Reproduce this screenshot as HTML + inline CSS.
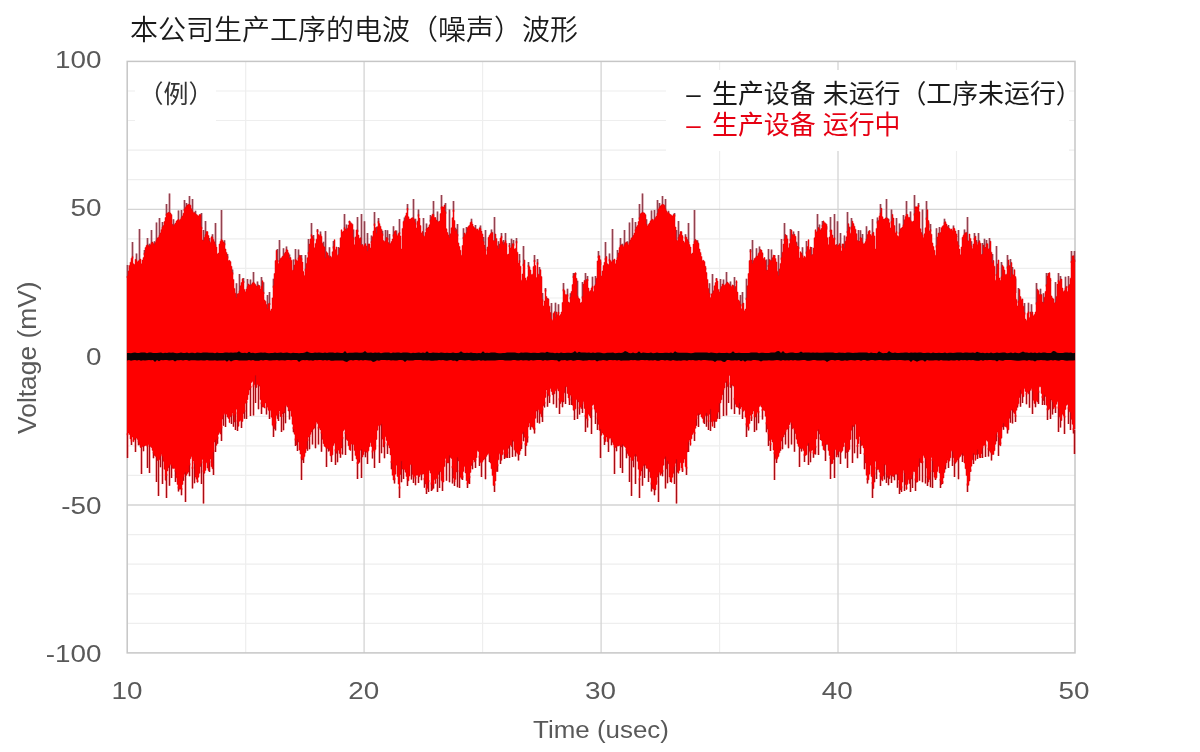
<!DOCTYPE html>
<html lang="zh-CN">
<head>
<meta charset="utf-8">
<title>本公司生产工序的电波（噪声）波形</title>
<style>
html,body{margin:0;padding:0;background:#fff;}
body{width:1200px;height:752px;overflow:hidden;}
svg{display:block;}
.ax text{font-family:"Liberation Sans",sans-serif;font-size:24px;fill:#595959;}
.cjk{font-family:"Liberation Sans","Noto Sans CJK SC",sans-serif;}
</style>
</head>
<body>
<svg width="1200" height="752" viewBox="0 0 1200 752">
<rect width="1200" height="752" fill="#fff"/>
<g fill="none">
<path d="M127.2,91H1075M127.2,120.5H1075M127.2,150.1H1075M127.2,179.7H1075M127.2,238.8H1075M127.2,268.4H1075M127.2,298H1075M127.2,327.6H1075M127.2,386.7H1075M127.2,416.3H1075M127.2,445.9H1075M127.2,475.4H1075M127.2,534.6H1075M127.2,564.2H1075M127.2,593.8H1075M127.2,623.3H1075M245.7,61.4V652.9M482.6,61.4V652.9M719.6,61.4V652.9M956.5,61.4V652.9" stroke="#eeeeee" stroke-width="1.2"/>
<path d="M127.2,209.3H1075M127.2,357.1H1075M127.2,505H1075M364.1,61.4V652.9M601.1,61.4V652.9M838,61.4V652.9" stroke="#d4d4d4" stroke-width="1.3"/>
</g>
<rect x="135" y="66" width="81" height="70" fill="#fff"/>
<rect x="666" y="70" width="403" height="81" fill="#fff"/>
<rect x="127.2" y="61.4" width="947.8" height="591.5" fill="none" stroke="#c6c6c6" stroke-width="1.5"/>
<path d="M127.5,265V278M132.5,242V258.5M136.5,253.5V262.6M139.5,229V261.9M144.5,249.9V254.9M147.5,238V246.7M149.5,243.8V248.8M151.5,230V244.8M154.5,241.2V246.8M156.5,222.4V241.9M159.5,218V237.3M162.5,222V228.9M166.5,204V215.8M169.5,193.6V214.7M173.5,219.3V228M178.5,210.6V221.2M181.5,210V219.4M184.5,200V211.1M186.5,202.9V207.9M189.5,196V206.5M192.5,199V212.8M195.5,210.8V215.8M201.5,213V229M203.5,230V242.7M205.5,221V236.6M209.5,238.1V243.1M212.5,234.3V239.3M215.5,223V246.5M221.5,210V241.4M224.5,240.3V245.3M227.5,254V258.4M232.5,269.5V274.5M236.5,283.3V299.4M239.5,274V292.8M243.5,278V283M247.5,279.1V288.6M250.5,279.4V287.3M253.5,272V284.1M257.5,281.6V288.4M261.5,277V288.5M263.5,282.2V294.1M267.5,295V310.7M269.5,292V305.1M273.5,278.7V287.8M277.5,249V262M279.5,240V262.5M283.5,248.2V257.9M286.5,246.5V251.5M289.5,254.6V260.6M293.5,259.5V272.1M295.5,249V261.4M298.5,249.4V259.7M301.5,255V260.4M305.5,255V270.9M308.5,239V254.2M311.5,223V236.6M313.5,235V240.8M317.5,229V232.1M320.5,231.6V236.3M323.5,241.7V248.1M325.5,231V259.9M329.5,247.2V259.7M333.5,240.9V248.5M338.5,246.9V256.6M344.5,214V229.6M346.5,224.6V232.1M349.5,221V222.9M353.5,229.6V239.7M357.5,217V231.9M361.5,214V247M364.5,221.3V247.1M367.5,233V253M371.5,235.4V243.3M374.5,212V225.7M376.5,226.8V235.2M378.5,218V223.2M382.5,230.7V235.7M385.5,230V243.1M387.5,230.3V240.1M389.5,234V246.1M393.5,226.2V236.6M396.5,230.4V236.5M399.5,219V234.3M404.5,217.4V222.4M407.5,204V210.3M413.5,199V220.2M415.5,218.7V224.7M418.5,209.6V216.4M423.5,218V237.7M426.5,223.4V230.8M430.5,215.1V221.8M433.5,201V216.4M437.5,211.5V223.5M441.5,195V208.8M445.5,203V213.8M449.5,209.6V239.5M453.5,201V211.7M455.5,227.8V233.1M457.5,224V236.2M463.5,228.3V239M466.5,226.9V234.6M471.5,218.8V223.8M475.5,225.1V230.5M480.5,225.6V230.6M483.5,237V243.4M485.5,230V251.1M491.5,229.5V234.7M494.5,217V242.9M498.5,241.2V250.5M501.5,233V238.2M503.5,240.1V246.5M505.5,233V242.7M509.5,243V247.1M511.5,238.7V249.1M513.5,240V245.7M516.5,238V243.2M519.5,254V262.5M523.5,246V265.9M528.5,262V267.2M534.5,255V262.1M537.5,259V264.6M539.5,267V276.9M542.5,293V301.4M545.5,288V291.5M547.5,298V301.4M551.5,303V321.1M555.5,302.7V319.4M558.5,304.2V314M563.5,283V291.2M567.5,288.7V296.6M570.5,293.2V299.2M573.5,272.9V277.9M575.5,273V274.7M577.5,280.8V297.9M582.5,282V298.4M585.5,273.1V283.6M587.5,276V281.1M592.5,276.7V288.4M595.5,276V286.6M598.5,251V257.9M600.5,265V261.7M605.5,242V260.2M609.5,253.5V261.3M612.5,229V262.9M617.5,249.9V259.6M620.5,238V247.5M622.5,243.8V247.4M624.5,230V246.8M627.5,241.2V245.4M629.5,222.4V244.2M632.5,218V239.3M635.5,222V231.6M639.5,204V219.5M642.5,193.6V214.3M646.5,219.3V226.3M651.5,210.6V222.1M654.5,210V221.3M657.5,200V215.3M659.5,202.9V209.4M662.5,196V206.3M665.5,199V210.8M668.5,210.8V214.5M674.5,213V216.5M676.5,230V242M678.5,221V239.2M682.5,238.1V237.5M685.5,234.3V238.8M688.5,223V243.8M694.5,210V243.3M697.5,240.3V243.9M700.5,254V254.4M705.5,269.5V268.3M709.5,283.3V295.2M712.5,274V295.3M716.5,278V280.8M720.5,279.1V290.9M723.5,279.4V287M726.5,272V285M730.5,281.6V288M734.5,277V291M736.5,282.2V282.8M740.5,295V306.6M742.5,292V305.7M746.5,278.7V299.9M750.5,249V252.3M752.5,240V265.5M756.5,248.2V258.3M759.5,246.5V254M762.5,254.6V254.8M766.5,259.5V272.2M768.5,249V267M771.5,249.4V262.8M774.5,255V257.5M778.5,255V277.4M781.5,239V259.7M784.5,223V240.9M786.5,235V238.3M790.5,229V241.2M793.5,231.6V237.4M796.5,241.7V245.3M798.5,231V249.1M802.5,247.2V257.4M806.5,240.9V253.7M811.5,246.9V257.2M817.5,214V233M819.5,224.6V231.1M822.5,221V227M826.5,229.6V226.2M830.5,217V231.9M834.5,214V239.8M837.5,221.3V248.4M840.5,233V248M844.5,235.4V250M847.5,212V233M849.5,226.8V229.7M851.5,218V228.7M855.5,230.7V231.2M858.5,230V243.6M860.5,230.3V239.6M862.5,234V244.6M866.5,226.2V241.1M869.5,230.4V232.7M872.5,219V235.5M877.5,217.4V223.4M880.5,204V214.9M886.5,199V219.7M888.5,218.7V221.4M891.5,209.6V223.2M896.5,218V233.6M899.5,223.4V234.3M903.5,215.1V226.8M906.5,201V216.2M910.5,211.5V222M914.5,195V215.6M918.5,203V207M922.5,209.6V237M926.5,201V219.7M928.5,227.8V222.5M930.5,224V231.6M936.5,228.3V247.5M939.5,226.9V236.3M944.5,218.8V224.4M948.5,225.1V229.7M953.5,225.6V229.8M956.5,237V235.9M958.5,230V247.1M964.5,229.5V235.7M967.5,217V242.6M971.5,241.2V247.8M974.5,233V240M976.5,240.1V243.7M978.5,233V244.5M982.5,243V256.1M984.5,238.7V250.1M986.5,240V245.7M989.5,238V250.4M992.5,254V265M996.5,246V276M1001.5,262V278.8M1007.5,255V268.6M1010.5,259V279.6M1012.5,267V276.2M1015.5,293V278.6M1018.5,288V303.1M1020.5,298V298.6M1024.5,303V314.5M1028.5,302.7V313.7M1031.5,304.2V316.2M1036.5,283V304.5M1040.5,288.7V296.7M1043.5,293.2V304.8M1046.5,272.9V286.6M1048.5,273V275.4M1050.5,280.8V280.3M1055.5,282V304.3M1058.5,273.1V282.4M1060.5,276V281.6M1065.5,276.7V289.9M1068.5,276V287.9M1071.5,251V262.9M1074.5,251V262" fill="none" stroke="#e08088" stroke-width="2.2" opacity="0.55"/>
<path d="M127.5,458V433.2M131.5,445V439.6M135.5,452V436.2M138.5,445.3V440.3M141.5,474V445.4M143.5,451.3V444M147.5,468V444.9M149.5,473V443.5M153.5,458.3V451.4M156.5,482V455.2M158.5,496V458.4M160.5,467.3V454.2M162.5,484V454.2M166.5,498V473.8M169.5,485.8V463.8M171.5,478V463.3M175.5,482V469.8M178.5,491.4V486.4M181.5,495.3V487.9M183.5,480.8V475M185.5,502V470.3M189.5,476.2V463.3M192.5,488.5V466.8M194.5,483.2V461.7M197.5,482V480.3M201.5,484V461.3M203.5,503.6V470.2M209.5,472V460.7M213.5,475V449.9M215.5,452.1V437.9M217.5,443.7V436.8M221.5,441V426.3M223.5,425.7V413.3M225.5,427V412.7M231.5,424V413.6M233.5,426.8V413.6M235.5,430V412.2M237.5,431V419.7M241.5,428V419.4M244.5,418.7V409.9M246.5,419V400.9M250.5,416V385.9M253.5,415.6V384.6M255.5,403V373.4M258.5,409.2V383.3M261.5,414V402.2M266.5,414.6V406.5M269.5,419V409.2M273.5,437V424.7M275.5,430.4V421.6M278.5,421V412M281.5,432V415M283.5,430.3V410.1M285.5,423.2V404.6M289.5,419.5V407.9M293.5,432.3V427.1M295.5,446V438.5M297.5,451V437.5M301.5,480V456.6M303.5,463V456.4M307.5,450.8V439M309.5,449.2V435M312.5,444.5V427.8M315.5,448.3V422.8M318.5,444.6V426.7M321.5,451.8V431.5M326.5,467V446.4M328.5,451.5V446.5M331.5,462V453.4M335.5,465V449.3M337.5,462.2V448.7M340.5,457.7V451.9M342.5,454.4V436.9M345.5,455.1V432M347.5,440V438.5M352.5,461V442.4M357.5,479V461.9M359.5,462.5V457.5M361.5,478V447.4M365.5,457.3V449.3M367.5,464V450.2M372.5,458.6V450.4M374.5,468V449.5M379.5,463V424.6M381.5,453.3V421.9M384.5,458.2V441.7M387.5,454V443.5M391.5,469.2V460.9M394.5,483.6V477.8M399.5,498V486.5M401.5,482.3V459.2M403.5,479V467.6M407.5,486V477.6M411.5,479.5V462.8M413.5,483V475.3M415.5,485.3V476.7M418.5,483.1V474.1M421.5,480.2V472.2M424.5,487.7V477.9M426.5,494V488M428.5,492.1V480.1M431.5,491V482.6M433.5,488.5V482.3M437.5,492V476.9M439.5,488.1V469.8M442.5,491V480.3M446.5,480.7V460.4M449.5,482.3V453.4M452.5,483.6V466.1M454.5,486V480M457.5,487.2V455.6M459.5,488.1V469.9M462.5,480V475.8M467.5,488V482.4M469.5,484V476M472.5,469.2V461M475.5,468V458.8M479.5,466V455.7M481.5,477V461.2M485.5,479.3V455.3M489.5,462.1V453.6M494.5,492V483.3M497.5,471.7V464.2M500.5,464V452.6M504.5,459.1V452.1M507.5,458.1V451.7M509.5,458.1V443.7M512.5,456.9V438.2M515.5,456.4V448.8M518.5,460.4V452.6M521.5,449V442.3M523.5,441.2V429.9M525.5,456V442.9M527.5,442.4V436.2M530.5,429.8V424.2M534.5,433.6V427.8M537.5,422.7V408M539.5,423.4V410.3M542.5,422V408.3M544.5,407.6V401.7M547.5,406.7V391.5M549.5,403V394.7M553.5,404.3V390.5M556.5,407.8V388.2M559.5,414V398.3M562.5,407.3V398.8M565.5,403.9V384.8M569.5,405V398.5M571.5,405.1V394.4M574.5,420V407.8M577.5,419V397.9M579.5,414.5V406.8M582.5,412.9V402.3M585.5,432V414.7M587.5,427.4V418.5M591.5,434V407.5M595.5,423.9V409.5M597.5,430V417.3M600.5,433.4V427.1M600.5,458V427.1M604.5,445V437.1M608.5,452V437.7M611.5,445.3V437.6M614.5,474V445.4M616.5,451.3V444.5M620.5,468V443.5M622.5,473V442.5M626.5,458.3V448.4M629.5,482V454.2M631.5,496V458.4M633.5,467.3V457.4M635.5,484V452.2M639.5,498V478.2M642.5,485.8V465.7M644.5,478V462.3M648.5,482V466.6M651.5,491.4V482.6M654.5,495.3V486.9M656.5,480.8V482.5M658.5,502V472.2M662.5,476.2V470.1M665.5,488.5V454.8M667.5,483.2V458.9M670.5,482V477.3M674.5,484V464.5M676.5,503.6V457.6M682.5,472V468.5M686.5,475V466.7M688.5,452.1V439.9M690.5,443.7V443.3M694.5,441V432M696.5,425.7V417M698.5,427V411.5M704.5,424V414.7M706.5,426.8V411.1M708.5,430V420M710.5,431V407.2M714.5,428V418.3M717.5,418.7V411.5M719.5,419V401.2M723.5,416V387.9M726.5,415.6V379.6M728.5,403V382.6M731.5,409.2V382.6M734.5,414V397.7M739.5,414.6V400.9M742.5,419V408.2M746.5,437V423.3M748.5,430.4V426.7M751.5,421V416.7M754.5,432V414.5M756.5,430.3V411.9M758.5,423.2V410.9M762.5,419.5V409M766.5,432.3V422.3M768.5,446V432.3M770.5,451V443M774.5,480V452.1M776.5,463V457.9M780.5,450.8V446.7M782.5,449.2V435M785.5,444.5V430M788.5,448.3V426.1M791.5,444.6V421.6M794.5,451.8V428M799.5,467V445.1M801.5,451.5V446.5M804.5,462V453.8M808.5,465V441.2M810.5,462.2V451.2M813.5,457.7V451.6M815.5,454.4V445.9M818.5,455.1V427.5M820.5,440V437.2M825.5,461V442.1M830.5,479V457.1M832.5,462.5V461.5M834.5,478V448.2M838.5,457.3V449.5M840.5,464V450.2M845.5,458.6V444.4M847.5,468V448.5M852.5,463V423.4M854.5,453.3V423.1M857.5,458.2V444.9M860.5,454V438.5M864.5,469.2V452.9M867.5,483.6V478M872.5,498V482.1M874.5,482.3V472.5M876.5,479V466.9M880.5,486V474.6M884.5,479.5V462.6M886.5,483V472.6M888.5,485.3V474.3M891.5,483.1V473M894.5,480.2V472.6M897.5,487.7V471.9M899.5,494V481.9M901.5,492.1V486.3M904.5,491V471.1M906.5,488.5V487.4M910.5,492V476.4M912.5,488.1V472.6M915.5,491V478.5M919.5,480.7V456.5M922.5,482.3V460.9M925.5,483.6V456.4M927.5,486V476.1M930.5,487.2V469.9M932.5,488.1V458.9M935.5,480V476.8M940.5,488V478.7M942.5,484V481.1M945.5,469.2V463.5M948.5,468V459.8M952.5,466V449.5M954.5,477V460.3M958.5,479.3V457M962.5,462.1V451.5M967.5,492V483.5M970.5,471.7V469.4M973.5,464V451.6M977.5,459.1V447.8M980.5,458.1V455.6M982.5,458.1V446.3M985.5,456.9V444.5M988.5,456.4V447.8M991.5,460.4V451.6M994.5,449V448.7M996.5,441.2V431.8M998.5,456V435.2M1000.5,442.4V443.7M1003.5,429.8V421.2M1007.5,433.6V427.2M1010.5,422.7V409M1012.5,423.4V407.8M1015.5,422V414.8M1017.5,407.6V403.7M1020.5,406.7V387.9M1022.5,403V393.4M1026.5,404.3V392.7M1029.5,407.8V388.7M1032.5,414V388.9M1035.5,407.3V399.5M1038.5,403.9V390.8M1042.5,405V396M1044.5,405.1V392.9M1047.5,420V408.2M1050.5,419V397.6M1052.5,414.5V399.9M1055.5,412.9V406.5M1058.5,432V406.5M1060.5,427.4V416.5M1064.5,434V415.7M1068.5,423.9V407.3M1070.5,430V410.5M1073.5,433.4V428.3M1074.5,454V430" fill="none" stroke="#ff5a5a" stroke-width="2.4" opacity="0.55"/>
<path d="M127.5,265V278M132.5,242V258.5M136.5,253.5V262.6M139.5,229V261.9M144.5,249.9V254.9M147.5,238V246.7M149.5,243.8V248.8M151.5,230V244.8M154.5,241.2V246.8M156.5,222.4V241.9M159.5,218V237.3M162.5,222V228.9M166.5,204V215.8M169.5,193.6V214.7M173.5,219.3V228M178.5,210.6V221.2M181.5,210V219.4M184.5,200V211.1M186.5,202.9V207.9M189.5,196V206.5M192.5,199V212.8M195.5,210.8V215.8M201.5,213V229M203.5,230V242.7M205.5,221V236.6M209.5,238.1V243.1M212.5,234.3V239.3M215.5,223V246.5M221.5,210V241.4M224.5,240.3V245.3M227.5,254V258.4M232.5,269.5V274.5M236.5,283.3V299.4M239.5,274V292.8M243.5,278V283M247.5,279.1V288.6M250.5,279.4V287.3M253.5,272V284.1M257.5,281.6V288.4M261.5,277V288.5M263.5,282.2V294.1M267.5,295V310.7M269.5,292V305.1M273.5,278.7V287.8M277.5,249V262M279.5,240V262.5M283.5,248.2V257.9M286.5,246.5V251.5M289.5,254.6V260.6M293.5,259.5V272.1M295.5,249V261.4M298.5,249.4V259.7M301.5,255V260.4M305.5,255V270.9M308.5,239V254.2M311.5,223V236.6M313.5,235V240.8M317.5,229V232.1M320.5,231.6V236.3M323.5,241.7V248.1M325.5,231V259.9M329.5,247.2V259.7M333.5,240.9V248.5M338.5,246.9V256.6M344.5,214V229.6M346.5,224.6V232.1M349.5,221V222.9M353.5,229.6V239.7M357.5,217V231.9M361.5,214V247M364.5,221.3V247.1M367.5,233V253M371.5,235.4V243.3M374.5,212V225.7M376.5,226.8V235.2M378.5,218V223.2M382.5,230.7V235.7M385.5,230V243.1M387.5,230.3V240.1M389.5,234V246.1M393.5,226.2V236.6M396.5,230.4V236.5M399.5,219V234.3M404.5,217.4V222.4M407.5,204V210.3M413.5,199V220.2M415.5,218.7V224.7M418.5,209.6V216.4M423.5,218V237.7M426.5,223.4V230.8M430.5,215.1V221.8M433.5,201V216.4M437.5,211.5V223.5M441.5,195V208.8M445.5,203V213.8M449.5,209.6V239.5M453.5,201V211.7M455.5,227.8V233.1M457.5,224V236.2M463.5,228.3V239M466.5,226.9V234.6M471.5,218.8V223.8M475.5,225.1V230.5M480.5,225.6V230.6M483.5,237V243.4M485.5,230V251.1M491.5,229.5V234.7M494.5,217V242.9M498.5,241.2V250.5M501.5,233V238.2M503.5,240.1V246.5M505.5,233V242.7M509.5,243V247.1M511.5,238.7V249.1M513.5,240V245.7M516.5,238V243.2M519.5,254V262.5M523.5,246V265.9M528.5,262V267.2M534.5,255V262.1M537.5,259V264.6M539.5,267V276.9M542.5,293V301.4M545.5,288V291.5M547.5,298V301.4M551.5,303V321.1M555.5,302.7V319.4M558.5,304.2V314M563.5,283V291.2M567.5,288.7V296.6M570.5,293.2V299.2M573.5,272.9V277.9M575.5,273V274.7M577.5,280.8V297.9M582.5,282V298.4M585.5,273.1V283.6M587.5,276V281.1M592.5,276.7V288.4M595.5,276V286.6M598.5,251V257.9M600.5,265V261.7M605.5,242V260.2M609.5,253.5V261.3M612.5,229V262.9M617.5,249.9V259.6M620.5,238V247.5M622.5,243.8V247.4M624.5,230V246.8M627.5,241.2V245.4M629.5,222.4V244.2M632.5,218V239.3M635.5,222V231.6M639.5,204V219.5M642.5,193.6V214.3M646.5,219.3V226.3M651.5,210.6V222.1M654.5,210V221.3M657.5,200V215.3M659.5,202.9V209.4M662.5,196V206.3M665.5,199V210.8M668.5,210.8V214.5M674.5,213V216.5M676.5,230V242M678.5,221V239.2M682.5,238.1V237.5M685.5,234.3V238.8M688.5,223V243.8M694.5,210V243.3M697.5,240.3V243.9M700.5,254V254.4M705.5,269.5V268.3M709.5,283.3V295.2M712.5,274V295.3M716.5,278V280.8M720.5,279.1V290.9M723.5,279.4V287M726.5,272V285M730.5,281.6V288M734.5,277V291M736.5,282.2V282.8M740.5,295V306.6M742.5,292V305.7M746.5,278.7V299.9M750.5,249V252.3M752.5,240V265.5M756.5,248.2V258.3M759.5,246.5V254M762.5,254.6V254.8M766.5,259.5V272.2M768.5,249V267M771.5,249.4V262.8M774.5,255V257.5M778.5,255V277.4M781.5,239V259.7M784.5,223V240.9M786.5,235V238.3M790.5,229V241.2M793.5,231.6V237.4M796.5,241.7V245.3M798.5,231V249.1M802.5,247.2V257.4M806.5,240.9V253.7M811.5,246.9V257.2M817.5,214V233M819.5,224.6V231.1M822.5,221V227M826.5,229.6V226.2M830.5,217V231.9M834.5,214V239.8M837.5,221.3V248.4M840.5,233V248M844.5,235.4V250M847.5,212V233M849.5,226.8V229.7M851.5,218V228.7M855.5,230.7V231.2M858.5,230V243.6M860.5,230.3V239.6M862.5,234V244.6M866.5,226.2V241.1M869.5,230.4V232.7M872.5,219V235.5M877.5,217.4V223.4M880.5,204V214.9M886.5,199V219.7M888.5,218.7V221.4M891.5,209.6V223.2M896.5,218V233.6M899.5,223.4V234.3M903.5,215.1V226.8M906.5,201V216.2M910.5,211.5V222M914.5,195V215.6M918.5,203V207M922.5,209.6V237M926.5,201V219.7M928.5,227.8V222.5M930.5,224V231.6M936.5,228.3V247.5M939.5,226.9V236.3M944.5,218.8V224.4M948.5,225.1V229.7M953.5,225.6V229.8M956.5,237V235.9M958.5,230V247.1M964.5,229.5V235.7M967.5,217V242.6M971.5,241.2V247.8M974.5,233V240M976.5,240.1V243.7M978.5,233V244.5M982.5,243V256.1M984.5,238.7V250.1M986.5,240V245.7M989.5,238V250.4M992.5,254V265M996.5,246V276M1001.5,262V278.8M1007.5,255V268.6M1010.5,259V279.6M1012.5,267V276.2M1015.5,293V278.6M1018.5,288V303.1M1020.5,298V298.6M1024.5,303V314.5M1028.5,302.7V313.7M1031.5,304.2V316.2M1036.5,283V304.5M1040.5,288.7V296.7M1043.5,293.2V304.8M1046.5,272.9V286.6M1048.5,273V275.4M1050.5,280.8V280.3M1055.5,282V304.3M1058.5,273.1V282.4M1060.5,276V281.6M1065.5,276.7V289.9M1068.5,276V287.9M1071.5,251V262.9M1074.5,251V262" fill="none" stroke="#914250" stroke-width="1.4"/>
<path d="M127.5,458V433.2M131.5,445V439.6M135.5,452V436.2M138.5,445.3V440.3M141.5,474V445.4M143.5,451.3V444M147.5,468V444.9M149.5,473V443.5M153.5,458.3V451.4M156.5,482V455.2M158.5,496V458.4M160.5,467.3V454.2M162.5,484V454.2M166.5,498V473.8M169.5,485.8V463.8M171.5,478V463.3M175.5,482V469.8M178.5,491.4V486.4M181.5,495.3V487.9M183.5,480.8V475M185.5,502V470.3M189.5,476.2V463.3M192.5,488.5V466.8M194.5,483.2V461.7M197.5,482V480.3M201.5,484V461.3M203.5,503.6V470.2M209.5,472V460.7M213.5,475V449.9M215.5,452.1V437.9M217.5,443.7V436.8M221.5,441V426.3M223.5,425.7V413.3M225.5,427V412.7M231.5,424V413.6M233.5,426.8V413.6M235.5,430V412.2M237.5,431V419.7M241.5,428V419.4M244.5,418.7V409.9M246.5,419V400.9M250.5,416V385.9M253.5,415.6V384.6M255.5,403V373.4M258.5,409.2V383.3M261.5,414V402.2M266.5,414.6V406.5M269.5,419V409.2M273.5,437V424.7M275.5,430.4V421.6M278.5,421V412M281.5,432V415M283.5,430.3V410.1M285.5,423.2V404.6M289.5,419.5V407.9M293.5,432.3V427.1M295.5,446V438.5M297.5,451V437.5M301.5,480V456.6M303.5,463V456.4M307.5,450.8V439M309.5,449.2V435M312.5,444.5V427.8M315.5,448.3V422.8M318.5,444.6V426.7M321.5,451.8V431.5M326.5,467V446.4M328.5,451.5V446.5M331.5,462V453.4M335.5,465V449.3M337.5,462.2V448.7M340.5,457.7V451.9M342.5,454.4V436.9M345.5,455.1V432M347.5,440V438.5M352.5,461V442.4M357.5,479V461.9M359.5,462.5V457.5M361.5,478V447.4M365.5,457.3V449.3M367.5,464V450.2M372.5,458.6V450.4M374.5,468V449.5M379.5,463V424.6M381.5,453.3V421.9M384.5,458.2V441.7M387.5,454V443.5M391.5,469.2V460.9M394.5,483.6V477.8M399.5,498V486.5M401.5,482.3V459.2M403.5,479V467.6M407.5,486V477.6M411.5,479.5V462.8M413.5,483V475.3M415.5,485.3V476.7M418.5,483.1V474.1M421.5,480.2V472.2M424.5,487.7V477.9M426.5,494V488M428.5,492.1V480.1M431.5,491V482.6M433.5,488.5V482.3M437.5,492V476.9M439.5,488.1V469.8M442.5,491V480.3M446.5,480.7V460.4M449.5,482.3V453.4M452.5,483.6V466.1M454.5,486V480M457.5,487.2V455.6M459.5,488.1V469.9M462.5,480V475.8M467.5,488V482.4M469.5,484V476M472.5,469.2V461M475.5,468V458.8M479.5,466V455.7M481.5,477V461.2M485.5,479.3V455.3M489.5,462.1V453.6M494.5,492V483.3M497.5,471.7V464.2M500.5,464V452.6M504.5,459.1V452.1M507.5,458.1V451.7M509.5,458.1V443.7M512.5,456.9V438.2M515.5,456.4V448.8M518.5,460.4V452.6M521.5,449V442.3M523.5,441.2V429.9M525.5,456V442.9M527.5,442.4V436.2M530.5,429.8V424.2M534.5,433.6V427.8M537.5,422.7V408M539.5,423.4V410.3M542.5,422V408.3M544.5,407.6V401.7M547.5,406.7V391.5M549.5,403V394.7M553.5,404.3V390.5M556.5,407.8V388.2M559.5,414V398.3M562.5,407.3V398.8M565.5,403.9V384.8M569.5,405V398.5M571.5,405.1V394.4M574.5,420V407.8M577.5,419V397.9M579.5,414.5V406.8M582.5,412.9V402.3M585.5,432V414.7M587.5,427.4V418.5M591.5,434V407.5M595.5,423.9V409.5M597.5,430V417.3M600.5,433.4V427.1M600.5,458V427.1M604.5,445V437.1M608.5,452V437.7M611.5,445.3V437.6M614.5,474V445.4M616.5,451.3V444.5M620.5,468V443.5M622.5,473V442.5M626.5,458.3V448.4M629.5,482V454.2M631.5,496V458.4M633.5,467.3V457.4M635.5,484V452.2M639.5,498V478.2M642.5,485.8V465.7M644.5,478V462.3M648.5,482V466.6M651.5,491.4V482.6M654.5,495.3V486.9M656.5,480.8V482.5M658.5,502V472.2M662.5,476.2V470.1M665.5,488.5V454.8M667.5,483.2V458.9M670.5,482V477.3M674.5,484V464.5M676.5,503.6V457.6M682.5,472V468.5M686.5,475V466.7M688.5,452.1V439.9M690.5,443.7V443.3M694.5,441V432M696.5,425.7V417M698.5,427V411.5M704.5,424V414.7M706.5,426.8V411.1M708.5,430V420M710.5,431V407.2M714.5,428V418.3M717.5,418.7V411.5M719.5,419V401.2M723.5,416V387.9M726.5,415.6V379.6M728.5,403V382.6M731.5,409.2V382.6M734.5,414V397.7M739.5,414.6V400.9M742.5,419V408.2M746.5,437V423.3M748.5,430.4V426.7M751.5,421V416.7M754.5,432V414.5M756.5,430.3V411.9M758.5,423.2V410.9M762.5,419.5V409M766.5,432.3V422.3M768.5,446V432.3M770.5,451V443M774.5,480V452.1M776.5,463V457.9M780.5,450.8V446.7M782.5,449.2V435M785.5,444.5V430M788.5,448.3V426.1M791.5,444.6V421.6M794.5,451.8V428M799.5,467V445.1M801.5,451.5V446.5M804.5,462V453.8M808.5,465V441.2M810.5,462.2V451.2M813.5,457.7V451.6M815.5,454.4V445.9M818.5,455.1V427.5M820.5,440V437.2M825.5,461V442.1M830.5,479V457.1M832.5,462.5V461.5M834.5,478V448.2M838.5,457.3V449.5M840.5,464V450.2M845.5,458.6V444.4M847.5,468V448.5M852.5,463V423.4M854.5,453.3V423.1M857.5,458.2V444.9M860.5,454V438.5M864.5,469.2V452.9M867.5,483.6V478M872.5,498V482.1M874.5,482.3V472.5M876.5,479V466.9M880.5,486V474.6M884.5,479.5V462.6M886.5,483V472.6M888.5,485.3V474.3M891.5,483.1V473M894.5,480.2V472.6M897.5,487.7V471.9M899.5,494V481.9M901.5,492.1V486.3M904.5,491V471.1M906.5,488.5V487.4M910.5,492V476.4M912.5,488.1V472.6M915.5,491V478.5M919.5,480.7V456.5M922.5,482.3V460.9M925.5,483.6V456.4M927.5,486V476.1M930.5,487.2V469.9M932.5,488.1V458.9M935.5,480V476.8M940.5,488V478.7M942.5,484V481.1M945.5,469.2V463.5M948.5,468V459.8M952.5,466V449.5M954.5,477V460.3M958.5,479.3V457M962.5,462.1V451.5M967.5,492V483.5M970.5,471.7V469.4M973.5,464V451.6M977.5,459.1V447.8M980.5,458.1V455.6M982.5,458.1V446.3M985.5,456.9V444.5M988.5,456.4V447.8M991.5,460.4V451.6M994.5,449V448.7M996.5,441.2V431.8M998.5,456V435.2M1000.5,442.4V443.7M1003.5,429.8V421.2M1007.5,433.6V427.2M1010.5,422.7V409M1012.5,423.4V407.8M1015.5,422V414.8M1017.5,407.6V403.7M1020.5,406.7V387.9M1022.5,403V393.4M1026.5,404.3V392.7M1029.5,407.8V388.7M1032.5,414V388.9M1035.5,407.3V399.5M1038.5,403.9V390.8M1042.5,405V396M1044.5,405.1V392.9M1047.5,420V408.2M1050.5,419V397.6M1052.5,414.5V399.9M1055.5,412.9V406.5M1058.5,432V406.5M1060.5,427.4V416.5M1064.5,434V415.7M1068.5,423.9V407.3M1070.5,430V410.5M1073.5,433.4V428.3M1074.5,454V430" fill="none" stroke="#a80c14" stroke-width="1.15"/>
<path d="M127,356.5V276H128V271H129V265.4H130V262.2H131V258.2H132V256.5H133V263.8H134V264.5H135V259.3H136V260.6H137V262H138V260.9H139V259.9H140V259.1H141V263.8H142V260.1H143V257.6H144V252.9H145V247.5H146V245.5H147V244.7H148V245.4H149V246.8H150V244.8H151V242.8H152V242.1H153V243.4H154V244.8H155V242.2H156V239.9H157V237.9H158V237.3H159V235.3H160V232.9H161V229.6H162V226.9H163V225.5H164V221.5H165V217.5H166V213.8H167V213H168V212.3H169V212.7H170V213.1H171V214.6H172V224.3H173V226H174V224.5H175V223H176V220.9H177V220.1H178V219.2H179V220.3H180V219.3H181V217.4H182V215.9H183V213.3H184V209.1H185V207.4H186V205.9H187V204.9H188V204.3H189V204.5H190V205.3H191V208.8H192V210.8H193V212.5H194V212.5H195V213.8H196V214.5H197V215.2H198V215.9H199V214.5H200V214.5H201V227H202V240H203V240.7H204V237.2H205V234.6H206V231.6H207V231.6H208V235.5H209V241.1H210V242.5H211V236.8H212V237.3H213V239.5H214V241.8H215V244.5H216V247H217V253.9H218V253.1H219V244H220V241.3H221V239.4H222V240.5H223V241.9H224V243.3H225V249H226V252.4H227V256.4H228V260.4H229V260.3H230V261.6H231V266.3H232V272.5H233V279.4H234V288.4H235V293.2H236V297.4H237V293.9H238V293.3H239V290.8H240V285.8H241V282.5H242V278.8H243V281H244V289.4H245V291.7H246V288.9H247V286.6H248V284H249V285H250V285.3H251V284.5H252V283H253V282.1H254V283.3H255V284.4H256V286H257V286.4H258V284.9H259V285.6H260V289H261V286.5H262V280.8H263V292.1H264V299.9H265V301.2H266V304.6H267V308.7H268V303.7H269V303.1H270V310.8H271V309.1H272V297.9H273V285.8H274V273.5H275V260.6H276V250.3H277V260H278V263.5H279V260.5H280V258.4H281V257.8H282V256.3H283V255.9H284V253.5H285V252H286V249.5H287V250.1H288V252.8H289V258.6H290V257.5H291V260.2H292V270.2H293V270.1H294V265H295V259.4H296V260.2H297V260.8H298V257.7H299V255.2H300V255.5H301V258.4H302V262H303V271.4H304V275.4H305V268.9H306V263.4H307V257.7H308V252.2H309V244.1H310V238.9H311V234.6H312V236.3H313V238.8H314V247.7H315V243.4H316V239.2H317V230.1H318V234.6H319V235.4H320V234.3H321V236.3H322V243.3H323V246.1H324V247.1H325V257.9H326V251.8H327V252.9H328V255.4H329V257.7H330V256.2H331V257.3H332V251.7H333V246.5H334V239.7H335V249.4H336V247H337V255.2H338V254.6H339V248.1H340V237.8H341V229.8H342V232H343V231H344V227.6H345V229.1H346V230.1H347V228.2H348V225H349V220.9H350V222.4H351V223.2H352V224.2H353V237.7H354V244.7H355V236.9H356V229.9H357V229.9H358V235H359V238.3H360V237.8H361V245H362V244.5H363V246.4H364V245.1H365V243.7H366V246H367V251H368V243.9H369V243.9H370V248H371V241.3H372V236.8H373V231H374V223.7H375V227.7H376V233.2H377V226.7H378V221.2H379V223.6H380V226.2H381V229.2H382V233.7H383V240.4H384V241.6H385V241.1H386V237.6H387V238.1H388V242.6H389V244.1H390V243.6H391V241.6H392V239.1H393V234.6H394V231.6H395V230.7H396V234.5H397V235.7H398V233.5H399V232.3H400V235.9H401V249.1H402V228.4H403V221.4H404V220.4H405V215.8H406V212.9H407V208.3H408V216.8H409V219.1H410V219.1H411V218.1H412V217.7H413V218.2H414V219.4H415V222.7H416V228H417V221.2H418V214.4H419V218.1H420V225.6H421V232.9H422V231.6H423V235.7H424V236.2H425V232.3H426V228.8H427V228.1H428V227.1H429V224.8H430V219.8H431V216.5H432V214.2H433V214.4H434V217.2H435V217.5H436V220H437V221.5H438V221.7H439V221.1H440V213.6H441V206.8H442V206.8H443V207H444V205H445V211.8H446V228.8H447V232.5H448V235H449V237.5H450V233.8H451V227.8H452V217.7H453V209.7H454V220.5H455V231.1H456V229.6H457V234.2H458V242.9H459V246.5H460V250.3H461V255.3H462V245.5H463V237H464V233H465V234.3H466V232.6H467V227.7H468V226.3H469V225.2H470V222.4H471V221.8H472V224H473V226.5H474V227.7H475V228.5H476V229.2H477V229H478V230.3H479V227.8H480V228.6H481V231.1H482V233.9H483V241.4H484V245.1H485V249.1H486V254.8H487V247H488V237.3H489V235.3H490V233.7H491V232.7H492V232.4H493V240.6H494V240.9H495V234H496V238.4H497V245.8H498V248.5H499V244H500V238H501V236.2H502V241.7H503V244.5H504V242.5H505V240.7H506V243.2H507V254.6H508V254.1H509V245.1H510V248.1H511V247.1H512V243.7H513V243.7H514V249H515V248.4H516V241.2H517V252.2H518V263H519V260.5H520V266.2H521V280.2H522V274H523V263.9H524V260H525V278.1H526V280.3H527V276.8H528V265.2H529V266.7H530V269.9H531V274.4H532V274.2H533V266.6H534V260.1H535V265.6H536V277.6H537V262.6H538V274.2H539V274.9H540V269.7H541V276.6H542V299.4H543V305.9H544V301.1H545V289.5H546V296.6H547V299.4H548V298.9H549V306.2H550V312.5H551V319.1H552V320.5H553V313.2H554V311.7H555V317.4H556V312H557V314.2H558V312H559V315.8H560V314.4H561V312H562V302.5H563V289.2H564V290.6H565V294.4H566V294.7H567V294.6H568V302.1H569V302.8H570V297.2H571V291.5H572V284.6H573V275.9H574V273.4H575V272.7H576V278.3H577V295.9H578V297.9H579V298.9H580V303H581V302.3H582V296.4H583V284.1H584V280.4H585V281.6H586V279.6H587V279.1H588V288.1H589V291.6H590V290.4H591V287.9H592V286.4H593V291.6H594V285.9H595V284.6H596V278.2H597V260.9H598V255.9H599V255.7H600V259.7H601V276H602V271H603V265.4H604V262.2H605V258.2H606V256.5H607V263.8H608V264.5H609V259.3H610V260.6H611V262H612V260.9H613V259.9H614V259.1H615V263.8H616V260.1H617V257.6H618V252.9H619V247.5H620V245.5H621V244.7H622V245.4H623V246.8H624V244.8H625V242.8H626V242.1H627V243.4H628V244.8H629V242.2H630V239.9H631V237.9H632V237.3H633V235.3H634V232.9H635V229.6H636V226.9H637V225.5H638V221.5H639V217.5H640V213.8H641V213H642V212.3H643V212.7H644V213.1H645V214.6H646V224.3H647V226H648V224.5H649V223H650V220.9H651V220.1H652V219.2H653V220.3H654V219.3H655V217.4H656V215.9H657V213.3H658V209.1H659V207.4H660V205.9H661V204.9H662V204.3H663V204.5H664V205.3H665V208.8H666V210.8H667V212.5H668V212.5H669V213.8H670V214.5H671V215.2H672V215.9H673V214.5H674V214.5H675V227H676V240H677V240.7H678V237.2H679V234.6H680V231.6H681V231.6H682V235.5H683V241.1H684V242.5H685V236.8H686V237.3H687V239.5H688V241.8H689V244.5H690V247H691V253.9H692V253.1H693V244H694V241.3H695V239.4H696V240.5H697V241.9H698V243.3H699V249H700V252.4H701V256.4H702V260.4H703V260.3H704V261.6H705V266.3H706V272.5H707V279.4H708V288.4H709V293.2H710V297.4H711V293.9H712V293.3H713V290.8H714V285.8H715V282.5H716V278.8H717V281H718V289.4H719V291.7H720V288.9H721V286.6H722V284H723V285H724V285.3H725V284.5H726V283H727V282.1H728V283.3H729V284.4H730V286H731V286.4H732V284.9H733V285.6H734V289H735V286.5H736V280.8H737V292.1H738V299.9H739V301.2H740V304.6H741V308.7H742V303.7H743V303.1H744V310.8H745V309.1H746V297.9H747V285.8H748V273.5H749V260.6H750V250.3H751V260H752V263.5H753V260.5H754V258.4H755V257.8H756V256.3H757V255.9H758V253.5H759V252H760V249.5H761V250.1H762V252.8H763V258.6H764V257.5H765V260.2H766V270.2H767V270.1H768V265H769V259.4H770V260.2H771V260.8H772V257.7H773V255.2H774V255.5H775V258.4H776V262H777V271.4H778V275.4H779V268.9H780V263.4H781V257.7H782V252.2H783V244.1H784V238.9H785V234.6H786V236.3H787V238.8H788V247.7H789V243.4H790V239.2H791V230.1H792V234.6H793V235.4H794V234.3H795V236.3H796V243.3H797V246.1H798V247.1H799V257.9H800V251.8H801V252.9H802V255.4H803V257.7H804V256.2H805V257.3H806V251.7H807V246.5H808V239.7H809V249.4H810V247H811V255.2H812V254.6H813V248.1H814V237.8H815V229.8H816V232H817V231H818V227.6H819V229.1H820V230.1H821V228.2H822V225H823V220.9H824V222.4H825V223.2H826V224.2H827V237.7H828V244.7H829V236.9H830V229.9H831V229.9H832V235H833V238.3H834V237.8H835V245H836V244.5H837V246.4H838V245.1H839V243.7H840V246H841V251H842V243.9H843V243.9H844V248H845V241.3H846V236.8H847V231H848V223.7H849V227.7H850V233.2H851V226.7H852V221.2H853V223.6H854V226.2H855V229.2H856V233.7H857V240.4H858V241.6H859V241.1H860V237.6H861V238.1H862V242.6H863V244.1H864V243.6H865V241.6H866V239.1H867V234.6H868V231.6H869V230.7H870V234.5H871V235.7H872V233.5H873V232.3H874V235.9H875V249.1H876V228.4H877V221.4H878V220.4H879V215.8H880V212.9H881V208.3H882V216.8H883V219.1H884V219.1H885V218.1H886V217.7H887V218.2H888V219.4H889V222.7H890V228H891V221.2H892V214.4H893V218.1H894V225.6H895V232.9H896V231.6H897V235.7H898V236.2H899V232.3H900V228.8H901V228.1H902V227.1H903V224.8H904V219.8H905V216.5H906V214.2H907V214.4H908V217.2H909V217.5H910V220H911V221.5H912V221.7H913V221.1H914V213.6H915V206.8H916V206.8H917V207H918V205H919V211.8H920V228.8H921V232.5H922V235H923V237.5H924V233.8H925V227.8H926V217.7H927V209.7H928V220.5H929V231.1H930V229.6H931V234.2H932V242.9H933V246.5H934V250.3H935V255.3H936V245.5H937V237H938V233H939V234.3H940V232.6H941V227.7H942V226.3H943V225.2H944V222.4H945V221.8H946V224H947V226.5H948V227.7H949V228.5H950V229.2H951V229H952V230.3H953V227.8H954V228.6H955V231.1H956V233.9H957V241.4H958V245.1H959V249.1H960V254.8H961V247H962V237.3H963V235.3H964V233.7H965V232.7H966V232.4H967V240.6H968V240.9H969V234H970V238.4H971V245.8H972V248.5H973V244H974V238H975V236.2H976V241.7H977V244.5H978V242.5H979V240.7H980V243.2H981V254.6H982V254.1H983V245.1H984V248.1H985V247.1H986V243.7H987V243.7H988V249H989V248.4H990V241.2H991V252.2H992V263H993V260.5H994V266.2H995V280.2H996V274H997V263.9H998V260H999V278.1H1000V280.3H1001V276.8H1002V265.2H1003V266.7H1004V269.9H1005V274.4H1006V274.2H1007V266.6H1008V260.1H1009V265.6H1010V277.6H1011V262.6H1012V274.2H1013V274.9H1014V269.7H1015V276.6H1016V299.4H1017V305.9H1018V301.1H1019V289.5H1020V296.6H1021V299.4H1022V298.9H1023V306.2H1024V312.5H1025V319.1H1026V320.5H1027V313.2H1028V311.7H1029V317.4H1030V312H1031V314.2H1032V312H1033V315.8H1034V314.4H1035V312H1036V302.5H1037V289.2H1038V290.6H1039V294.4H1040V294.7H1041V294.6H1042V302.1H1043V302.8H1044V297.2H1045V291.5H1046V284.6H1047V275.9H1048V273.4H1049V272.7H1050V278.3H1051V295.9H1052V297.9H1053V298.9H1054V303H1055V302.3H1056V296.4H1057V284.1H1058V280.4H1059V281.6H1060V279.6H1061V279.1H1062V288.1H1063V291.6H1064V290.4H1065V287.9H1066V286.4H1067V291.6H1068V285.9H1069V284.6H1070V278.2H1071V260.9H1072V255.9H1073V255.7H1074V259.7H1075V356.5ZM127,356.5V435.2H128V432.9H129V434.4H130V439.1H131V441.6H132V436.9H133V441.7H134V439.7H135V438.2H136V438.1H137V439.6H138V442.3H139V444.8H140V447.4H141V447.4H142V446.5H143V446H144V446H145V445.5H146V445.5H147V446.9H148V444.5H149V445.5H150V446.5H151V447.5H152V450.4H153V453.4H154V455.4H155V456.2H156V457.2H157V460.4H158V460.4H159V459.4H160V456.2H161V454.2H162V456.2H163V461.3H164V469.3H165V480.2H166V475.8H167V470.9H168V467.7H169V465.8H170V464.3H171V465.3H172V468.3H173V468.6H174V468.6H175V471.8H176V477.8H177V484.6H178V488.4H179V489.2H180V488.9H181V489.9H182V484.5H183V477H184V474.2H185V472.3H186V475.3H187V473.4H188V472.1H189V465.3H190V458.8H191V456.8H192V468.8H193V460.9H194V463.7H195V477.1H196V479.3H197V482.3H198V477.3H199V473.3H200V466.5H201V463.3H202V459.6H203V472.2H204V473.2H205V470.4H206V462.7H207V468H208V470.5H209V462.7H210V459H211V466.7H212V468.7H213V451.9H214V441.9H215V439.9H216V445.3H217V438.8H218V434.4H219V432.5H220V434H221V428.3H222V419H223V415.3H224V413.5H225V414.7H226V414.1H227V417H228V418.5H229V422.6H230V416.7H231V415.6H232V413.1H233V415.6H234V422H235V414.2H236V409.2H237V421.7H238V426.3H239V421.3H240V420.3H241V421.4H242V421.4H243V413.5H244V411.9H245V403.2H246V402.9H247V399.7H248V394.7H249V389.9H250V387.9H251V382.4H252V381.6H253V386.6H254V384.6H255V375.4H256V387.5H257V384.6H258V385.3H259V386.1H260V399.7H261V404.2H262V407H263V407H264V408H265V402.9H266V408.5H267V407H268V410.2H269V411.2H270V410.3H271V417.2H272V425.3H273V426.7H274V428.7H275V423.6H276V415.6H277V418.7H278V414H279V410.9H280V416.5H281V417H282V413.9H283V412.1H284V412.9H285V406.6H286V405.6H287V407.1H288V411H289V409.9H290V410.7H291V416.2H292V424.3H293V429.1H294V434.3H295V440.5H296V445H297V439.5H298V442H299V450.1H300V454.1H301V458.6H302V459.9H303V458.4H304V456.5H305V452.8H306V448.7H307V441H308V437H309V437H310V434.4H311V432H312V429.8H313V429.1H314V428.1H315V424.8H316V422.3H317V423.6H318V428.7H319V428H320V430H321V433.5H322V439.2H323V443.7H324V446.3H325V447.1H326V448.4H327V448.5H328V448.5H329V450.6H330V455.8H331V455.4H332V454.8H333V445.4H334V443.2H335V451.3H336V453.2H337V450.7H338V450.1H339V453.6H340V453.9H341V447.9H342V438.9H343V430.8H344V429.5H345V434H346V439.2H347V440.5H348V445.7H349V449.7H350V450.4H351V444.1H352V444.4H353V444.4H354V450.6H355V455.6H356V459.1H357V463.9H358V463.5H359V459.5H360V450.2H361V449.4H362V457H363V454.7H364V451.5H365V451.3H366V452.2H367V452.2H368V450.7H369V446.7H370V442.7H371V446.4H372V452.4H373V450.5H374V451.5H375V449.5H376V439.5H377V430.2H378V425.4H379V426.6H380V425.1H381V423.9H382V439.1H383V446.9H384V443.7H385V436.7H386V440.5H387V445.5H388V445.2H389V447.9H390V454.9H391V462.9H392V475.3H393V480H394V479.8H395V474.2H396V465.2H397V476.5H398V484.1H399V488.5H400V474.5H401V461.2H402V468.9H403V469.6H404V469.6H405V472.2H406V476.6H407V479.6H408V480.8H409V476.1H410V464.6H411V464.8H412V474.6H413V477.3H414V476.3H415V478.7H416V475.2H417V475H418V476.1H419V476.6H420V474.6H421V474.2H422V474.2H423V473.9H424V479.9H425V483.9H426V490H427V488.3H428V482.1H429V470.6H430V473.1H431V484.6H432V489.4H433V484.3H434V479.8H435V483.4H436V478.4H437V478.9H438V474.6H439V471.8H440V471.7H441V480.5H442V482.3H443V481.9H444V466.6H445V458.5H446V462.4H447V462.9H448V462.9H449V455.4H450V457.4H451V458.4H452V468.1H453V478.1H454V482H455V479.5H456V471.9H457V457.6H458V460.9H459V471.9H460V477.2H461V478.8H462V477.8H463V471.6H464V466.6H465V473H466V480.7H467V484.4H468V483.1H469V478H470V472.5H471V465.5H472V463H473V460H474V461.8H475V460.8H476V457.8H477V450.8H478V451.5H479V457.7H480V462.3H481V463.2H482V461.8H483V460.1H484V459H485V457.3H486V456.3H487V454.5H488V453.5H489V455.6H490V463H491V468.7H492V475.5H493V485.5H494V485.3H495V481H496V471.4H497V466.2H498V459.8H499V453.6H500V454.6H501V460.3H502V454.8H503V449.8H504V454.1H505V457.6H506V457.6H507V453.7H508V448.3H509V445.7H510V445H511V446.5H512V440.2H513V441.2H514V449.8H515V450.8H516V452.3H517V453.6H518V454.6H519V454.5H520V450.7H521V444.3H522V433.8H523V431.9H524V437.2H525V444.9H526V445.7H527V438.2H528V426.9H529V423.2H530V426.2H531V426.7H532V427.2H533V429.2H534V429.8H535V418.3H536V411H537V410H538V409.8H539V412.3H540V413.8H541V416.8H542V410.3H543V405.7H544V403.7H545V397.4H546V389.9H547V393.5H548V395.4H549V396.7H550V388.4H551V391.5H552V394.7H553V392.5H554V393.8H555V390.7H556V390.2H557V388.7H558V390.9H559V400.3H560V403.4H561V401.5H562V400.8H563V401.9H564V392.8H565V386.8H566V386.7H567V393.5H568V398H569V400.5H570V394.9H571V396.4H572V405.2H573V410.2H574V409.8H575V408.7H576V399.6H577V399.9H578V401.9H579V408.8H580V407H581V408.5H582V404.3H583V401.8H584V408.5H585V416.7H586V418.5H587V420.5H588V414.3H589V415.7H590V417.7H591V409.5H592V405.2H593V404.5H594V409.3H595V411.5H596V412.5H597V419.3H598V424.3H599V430.3H600V429.1H601V435.2H602V432.9H603V434.4H604V439.1H605V441.6H606V436.9H607V441.7H608V439.7H609V438.2H610V438.1H611V439.6H612V442.3H613V444.8H614V447.4H615V447.4H616V446.5H617V446H618V446H619V445.5H620V445.5H621V446.9H622V444.5H623V445.5H624V446.5H625V447.5H626V450.4H627V453.4H628V455.4H629V456.2H630V457.2H631V460.4H632V460.4H633V459.4H634V456.2H635V454.2H636V456.2H637V461.3H638V469.3H639V480.2H640V475.8H641V470.9H642V467.7H643V465.8H644V464.3H645V465.3H646V468.3H647V468.6H648V468.6H649V471.8H650V477.8H651V484.6H652V488.4H653V489.2H654V488.9H655V489.9H656V484.5H657V477H658V474.2H659V472.3H660V475.3H661V473.4H662V472.1H663V465.3H664V458.8H665V456.8H666V468.8H667V460.9H668V463.7H669V477.1H670V479.3H671V482.3H672V477.3H673V473.3H674V466.5H675V463.3H676V459.6H677V472.2H678V473.2H679V470.4H680V462.7H681V468H682V470.5H683V462.7H684V459H685V466.7H686V468.7H687V451.9H688V441.9H689V439.9H690V445.3H691V438.8H692V434.4H693V432.5H694V434H695V428.3H696V419H697V415.3H698V413.5H699V414.7H700V414.1H701V417H702V418.5H703V422.6H704V416.7H705V415.6H706V413.1H707V415.6H708V422H709V414.2H710V409.2H711V421.7H712V426.3H713V421.3H714V420.3H715V421.4H716V421.4H717V413.5H718V411.9H719V403.2H720V402.9H721V399.7H722V394.7H723V389.9H724V387.9H725V382.4H726V381.6H727V386.6H728V384.6H729V375.4H730V387.5H731V384.6H732V385.3H733V386.1H734V399.7H735V404.2H736V407H737V407H738V408H739V402.9H740V408.5H741V407H742V410.2H743V411.2H744V410.3H745V417.2H746V425.3H747V426.7H748V428.7H749V423.6H750V415.6H751V418.7H752V414H753V410.9H754V416.5H755V417H756V413.9H757V412.1H758V412.9H759V406.6H760V405.6H761V407.1H762V411H763V409.9H764V410.7H765V416.2H766V424.3H767V429.1H768V434.3H769V440.5H770V445H771V439.5H772V442H773V450.1H774V454.1H775V458.6H776V459.9H777V458.4H778V456.5H779V452.8H780V448.7H781V441H782V437H783V437H784V434.4H785V432H786V429.8H787V429.1H788V428.1H789V424.8H790V422.3H791V423.6H792V428.7H793V428H794V430H795V433.5H796V439.2H797V443.7H798V446.3H799V447.1H800V448.4H801V448.5H802V448.5H803V450.6H804V455.8H805V455.4H806V454.8H807V445.4H808V443.2H809V451.3H810V453.2H811V450.7H812V450.1H813V453.6H814V453.9H815V447.9H816V438.9H817V430.8H818V429.5H819V434H820V439.2H821V440.5H822V445.7H823V449.7H824V450.4H825V444.1H826V444.4H827V444.4H828V450.6H829V455.6H830V459.1H831V463.9H832V463.5H833V459.5H834V450.2H835V449.4H836V457H837V454.7H838V451.5H839V451.3H840V452.2H841V452.2H842V450.7H843V446.7H844V442.7H845V446.4H846V452.4H847V450.5H848V451.5H849V449.5H850V439.5H851V430.2H852V425.4H853V426.6H854V425.1H855V423.9H856V439.1H857V446.9H858V443.7H859V436.7H860V440.5H861V445.5H862V445.2H863V447.9H864V454.9H865V462.9H866V475.3H867V480H868V479.8H869V474.2H870V465.2H871V476.5H872V484.1H873V488.5H874V474.5H875V461.2H876V468.9H877V469.6H878V469.6H879V472.2H880V476.6H881V479.6H882V480.8H883V476.1H884V464.6H885V464.8H886V474.6H887V477.3H888V476.3H889V478.7H890V475.2H891V475H892V476.1H893V476.6H894V474.6H895V474.2H896V474.2H897V473.9H898V479.9H899V483.9H900V490H901V488.3H902V482.1H903V470.6H904V473.1H905V484.6H906V489.4H907V484.3H908V479.8H909V483.4H910V478.4H911V478.9H912V474.6H913V471.8H914V471.7H915V480.5H916V482.3H917V481.9H918V466.6H919V458.5H920V462.4H921V462.9H922V462.9H923V455.4H924V457.4H925V458.4H926V468.1H927V478.1H928V482H929V479.5H930V471.9H931V457.6H932V460.9H933V471.9H934V477.2H935V478.8H936V477.8H937V471.6H938V466.6H939V473H940V480.7H941V484.4H942V483.1H943V478H944V472.5H945V465.5H946V463H947V460H948V461.8H949V460.8H950V457.8H951V450.8H952V451.5H953V457.7H954V462.3H955V463.2H956V461.8H957V460.1H958V459H959V457.3H960V456.3H961V454.5H962V453.5H963V455.6H964V463H965V468.7H966V475.5H967V485.5H968V485.3H969V481H970V471.4H971V466.2H972V459.8H973V453.6H974V454.6H975V460.3H976V454.8H977V449.8H978V454.1H979V457.6H980V457.6H981V453.7H982V448.3H983V445.7H984V445H985V446.5H986V440.2H987V441.2H988V449.8H989V450.8H990V452.3H991V453.6H992V454.6H993V454.5H994V450.7H995V444.3H996V433.8H997V431.9H998V437.2H999V444.9H1000V445.7H1001V438.2H1002V426.9H1003V423.2H1004V426.2H1005V426.7H1006V427.2H1007V429.2H1008V429.8H1009V418.3H1010V411H1011V410H1012V409.8H1013V412.3H1014V413.8H1015V416.8H1016V410.3H1017V405.7H1018V403.7H1019V397.4H1020V389.9H1021V393.5H1022V395.4H1023V396.7H1024V388.4H1025V391.5H1026V394.7H1027V392.5H1028V393.8H1029V390.7H1030V390.2H1031V388.7H1032V390.9H1033V400.3H1034V403.4H1035V401.5H1036V400.8H1037V401.9H1038V392.8H1039V386.8H1040V386.7H1041V393.5H1042V398H1043V400.5H1044V394.9H1045V396.4H1046V405.2H1047V410.2H1048V409.8H1049V408.7H1050V399.6H1051V399.9H1052V401.9H1053V408.8H1054V407H1055V408.5H1056V404.3H1057V401.8H1058V408.5H1059V416.7H1060V418.5H1061V420.5H1062V414.3H1063V415.7H1064V417.7H1065V409.5H1066V405.2H1067V404.5H1068V409.3H1069V411.5H1070V412.5H1071V419.3H1072V424.3H1073V430.3H1074V429.1H1075V356.5Z" fill="#fe0000" stroke="#e00008" stroke-width="0.5"/>
<path d="M127,352.9L129,353L131,353.2L133,352.8L135,352.4L137,353L139,352.9L141,352.5L143,352.6L145,352.5L147,353.2L149,352.5L151,352.4L153,353.1L155,353L157,353L159,352.7L161,352.5L163,353.2L165,352.8L167,353.1L169,352.4L171,352.7L173,352.6L175,353L177,353.2L179,352.9L181,352.4L183,353.1L185,352.9L187,352.5L189,353.2L191,352.8L193,352.7L195,353.2L197,352.4L199,352.7L201,352.9L203,352.6L205,352.6L207,352.4L209,352.8L211,352.7L213,352.7L215,353.2L217,352.5L219,353L221,353.1L223,352.9L225,352.4L227,352.5L229,352.8L231,352.6L233,352.8L235,352.6L237,352.6L239,351.3L241,352.8L243,353.1L245,352.7L247,353.2L249,351.8L251,352.9L253,352.7L255,353.2L257,352.9L259,352.7L261,352.6L263,352.7L265,352.4L267,353.1L269,353.2L271,352.9L273,353L275,352.6L277,353L279,352.8L281,352.4L283,353L285,352.7L287,352.6L289,353L291,353.2L293,352.8L295,353.1L297,353.1L299,353.2L301,353.1L303,353L305,352.5L307,351.5L309,352.4L311,353.1L313,352.9L315,352.4L317,352.8L319,352.6L321,352.8L323,353L325,352.4L327,352.9L329,352.6L331,352.4L333,352.6L335,353.1L337,352.6L339,352.7L341,353.1L343,352.9L345,351L347,353.2L349,352.8L351,352.8L353,352.7L355,352.6L357,352.6L359,352.7L361,352.8L363,352.6L365,351.1L367,352.7L369,352.8L371,352.5L373,352.9L375,352.4L377,352.8L379,352.4L381,353.2L383,352.7L385,352.6L387,352.5L389,352.4L391,353.2L393,352.4L395,352.7L397,352.6L399,352.5L401,353.1L403,352.6L405,352.6L407,352.5L409,352.7L411,353.2L413,352.7L415,353L417,352.7L419,352.6L421,353L423,352.5L425,352.9L427,351.2L429,353L431,353L433,352.5L435,352.7L437,352.8L439,353.1L441,352.4L443,352.7L445,352.9L447,352.7L449,353.1L451,353.1L453,352.4L455,353.1L457,352.9L459,352.8L461,351.2L463,352.8L465,353.1L467,352.8L469,353L471,352.4L473,353L475,353L477,353.2L479,353L481,353.2L483,351.3L485,352.9L487,352.7L489,353L491,352.6L493,352.5L495,352.4L497,353L499,353.2L501,353.2L503,352.9L505,352.9L507,352.4L509,352.6L511,352.6L513,352.4L515,352.5L517,353L519,353.2L521,352.4L523,352.7L525,352.4L527,352.5L529,352.8L531,353L533,352.8L535,352.7L537,353.1L539,353.1L541,352.6L543,352.4L545,352.7L547,351.7L549,352.4L551,352.8L553,352.7L555,353.2L557,352.7L559,353.2L561,352.4L563,353.1L565,353L567,352.7L569,352.7L571,352.9L573,352.4L575,351.1L577,352.9L579,351.8L581,352.6L583,352.5L585,352.4L587,352.7L589,352.6L591,353L593,352.4L595,352.9L597,352.4L599,352.6L601,352.7L603,353.2L605,353.2L607,352.8L609,352.8L611,352.8L613,352.4L615,353.2L617,353L619,352.7L621,353.1L623,352.5L625,351L627,351.7L629,353L631,353.2L633,352.4L635,353.2L637,353.1L639,351.2L641,353.2L643,352.6L645,352.7L647,352.9L649,353L651,352.5L653,353.2L655,353.1L657,352.6L659,352.9L661,353L663,353.1L665,352.7L667,352.7L669,353L671,352.6L673,353.2L675,351.2L677,352.4L679,352.8L681,352.8L683,352.7L685,352.7L687,352.7L689,353.1L691,353.2L693,352.9L695,352.6L697,352.5L699,352.4L701,352.4L703,352.5L705,352.6L707,352.5L709,352.9L711,352.6L713,352.7L715,352.9L717,353.2L719,352.7L721,353L723,353.1L725,353.1L727,352.8L729,353.2L731,352.9L733,351.2L735,353L737,353L739,352.8L741,353.1L743,353L745,353.1L747,353.1L749,352.9L751,352.4L753,352.4L755,352.4L757,352.6L759,353.2L761,352.7L763,352.8L765,353L767,353.1L769,353.1L771,352.6L773,352.5L775,352.4L777,351.2L779,351L781,353.1L783,351.1L785,353L787,353.2L789,352.7L791,352.6L793,352.5L795,353L797,353.1L799,352.8L801,351.5L803,352.7L805,352.4L807,352.4L809,352.4L811,352.7L813,352.4L815,352.8L817,352.6L819,352.7L821,352.8L823,352.7L825,352.6L827,352.5L829,352.4L831,352.4L833,352.4L835,353L837,352.9L839,352.6L841,352.7L843,352.7L845,353L847,352.5L849,352.6L851,352.8L853,352.9L855,352.8L857,352.7L859,352.4L861,352.4L863,352.5L865,352.5L867,352.4L869,353.2L871,352.5L873,353L875,353.1L877,353.2L879,351.2L881,352.5L883,353.2L885,352.9L887,352.9L889,351.1L891,352.4L893,352.9L895,352.5L897,353L899,352.9L901,352.8L903,352.7L905,352.6L907,352.6L909,352.9L911,352.5L913,352.8L915,352.5L917,352.7L919,352.6L921,352.6L923,353L925,353L927,352.8L929,352.7L931,353.2L933,352.6L935,353L937,353L939,352.7L941,353L943,352.9L945,352.5L947,353.2L949,352.7L951,352.7L953,352.9L955,352.8L957,352.4L959,352.4L961,352.6L963,352.9L965,352.6L967,352.5L969,352.7L971,352.8L973,352.5L975,353L977,351.8L979,352.4L981,353L983,352.8L985,353.2L987,352.7L989,353.2L991,352.6L993,353.2L995,353L997,352.4L999,353L1001,352.8L1003,352.4L1005,352.6L1007,353.2L1009,353.1L1011,352.4L1013,353.2L1015,352.5L1017,353.1L1019,353.2L1021,352.4L1023,351.6L1025,352.5L1027,352.6L1029,353L1031,352.4L1033,352.9L1035,352.5L1037,353.2L1039,352.6L1041,353.1L1043,352.5L1045,352.6L1047,353L1049,353.1L1051,353.1L1053,351.1L1055,351.2L1057,352.7L1059,353L1061,352.9L1063,352.9L1065,352.6L1067,352.6L1069,352.8L1071,352.4L1073,353.2L1075,352.8L1075,360.3L1073,360.6L1071,360.4L1069,360.4L1067,360.7L1065,360.5L1063,360L1061,360.1L1059,360.7L1057,360.5L1055,359.9L1053,360.5L1051,360L1049,360.4L1047,360.7L1045,360.3L1043,360.2L1041,359.9L1039,360.3L1037,360.2L1035,361.4L1033,360.5L1031,360.5L1029,359.9L1027,360.7L1025,360.3L1023,360.2L1021,360.4L1019,360.7L1017,360.7L1015,360.6L1013,360.3L1011,360L1009,360L1007,359.9L1005,359.9L1003,360.7L1001,360.6L999,360.1L997,361.6L995,360.2L993,360.3L991,359.9L989,360.1L987,360.3L985,360.1L983,360.7L981,359.9L979,360.7L977,360.7L975,360.6L973,359.9L971,360.3L969,360.1L967,360.5L965,359.9L963,360.3L961,360.1L959,360.7L957,360.1L955,360.4L953,360.5L951,360.3L949,360.7L947,360.6L945,360.4L943,360.6L941,359.9L939,360.7L937,360.3L935,360.3L933,360.4L931,360.5L929,360.4L927,360.1L925,361.8L923,360.3L921,360.3L919,360.7L917,361.8L915,360.7L913,359.9L911,362.1L909,360.3L907,360.3L905,360.4L903,360.3L901,359.9L899,359.9L897,360.3L895,360L893,360.1L891,360.1L889,360.4L887,360.6L885,360.2L883,360.6L881,360.1L879,360.1L877,360.2L875,360.5L873,359.9L871,359.9L869,360.6L867,360.7L865,360.1L863,359.9L861,360.7L859,360.1L857,360L855,360.6L853,360.3L851,359.9L849,360.2L847,360.7L845,360.3L843,360.7L841,360.7L839,360L837,360L835,360.6L833,360L831,360.1L829,360.7L827,361.9L825,360.4L823,360.2L821,360.4L819,360.6L817,360.6L815,359.9L813,360.1L811,360.5L809,360.7L807,360.7L805,360.1L803,360.1L801,360.3L799,360.4L797,360.5L795,360.1L793,360.4L791,359.9L789,360.6L787,360.3L785,360.6L783,359.9L781,360.7L779,360.3L777,360L775,360.2L773,360.6L771,360.5L769,360.2L767,360.4L765,360.6L763,360.5L761,361.6L759,360.5L757,360.2L755,359.9L753,359.9L751,360.7L749,360.6L747,360.4L745,361.7L743,360.3L741,361.3L739,359.9L737,360.4L735,360.2L733,360.4L731,360.4L729,360.1L727,360L725,362L723,361.7L721,360.5L719,360.5L717,360.6L715,361.9L713,360.7L711,360.6L709,360.6L707,360.2L705,359.9L703,359.9L701,360.4L699,360L697,360.5L695,360.5L693,360.1L691,360.2L689,360L687,360.7L685,360.3L683,360.3L681,360.7L679,360.5L677,360.7L675,360.4L673,359.9L671,360.7L669,360.6L667,359.9L665,360.5L663,359.9L661,359.9L659,360.7L657,360.7L655,360.1L653,360.4L651,360.3L649,360.4L647,360L645,360.2L643,360L641,360L639,360.5L637,360.5L635,359.9L633,360.3L631,359.9L629,360.4L627,360.4L625,360.6L623,360.5L621,360.7L619,360.1L617,360.6L615,360.1L613,360.2L611,360L609,360L607,360.7L605,360.3L603,360.1L601,360.5L599,360.4L597,361.6L595,359.9L593,360.2L591,360.3L589,360.1L587,360.4L585,360.4L583,360.7L581,360.2L579,360L577,360.1L575,360.6L573,360.7L571,360L569,360.3L567,360.7L565,360L563,360.2L561,360.2L559,361.8L557,360.2L555,360.3L553,359.9L551,360L549,360.3L547,360.5L545,359.9L543,360.7L541,359.9L539,359.9L537,360.1L535,360.3L533,360.5L531,360.1L529,360.7L527,360.2L525,360.3L523,360.5L521,359.9L519,360.4L517,360.6L515,359.9L513,360L511,360.6L509,360.4L507,360.6L505,360.5L503,360L501,359.9L499,360.1L497,360.2L495,360.6L493,360.5L491,360.4L489,360.6L487,360.5L485,360.7L483,360.2L481,360.7L479,360L477,360.5L475,360.5L473,360.7L471,360.4L469,360.1L467,360.2L465,360.5L463,360.2L461,360.1L459,360L457,361.6L455,360.5L453,360.7L451,359.9L449,360.2L447,360.7L445,360.5L443,360.1L441,360.3L439,359.9L437,360.4L435,360.5L433,360.7L431,360.7L429,360.3L427,360.4L425,360.2L423,360.6L421,359.9L419,360.1L417,359.9L415,360.1L413,360.4L411,360.5L409,360.5L407,360.2L405,361.9L403,360.2L401,360L399,359.9L397,360.6L395,360.5L393,360.3L391,360.6L389,359.9L387,360.2L385,359.9L383,360.1L381,360.1L379,360.7L377,360.3L375,361.6L373,362.1L371,360.5L369,360.5L367,360.2L365,360.1L363,360.5L361,360L359,360.5L357,359.9L355,360L353,360.6L351,360L349,360.4L347,361.9L345,361.4L343,360.5L341,360.6L339,360.6L337,360.4L335,360.4L333,360.7L331,360.7L329,359.9L327,360.6L325,359.9L323,360.5L321,360.1L319,360.1L317,360.3L315,360L313,360.7L311,360.2L309,360.4L307,359.9L305,360.2L303,360.1L301,360.4L299,361.9L297,359.9L295,360.1L293,360L291,360.3L289,360.1L287,359.9L285,360.6L283,360.3L281,360.2L279,360.6L277,359.9L275,360.3L273,360.3L271,360.5L269,360.4L267,360.1L265,360.1L263,360.6L261,360L259,360.7L257,360.7L255,360.7L253,360.1L251,360.4L249,359.9L247,360.4L245,360.4L243,360.6L241,360.4L239,360.4L237,360L235,359.9L233,360.4L231,361.4L229,359.9L227,361.8L225,360.2L223,360.4L221,360.4L219,360.5L217,360.7L215,360.3L213,360.6L211,360.5L209,360.4L207,360.1L205,360.4L203,360.5L201,360.2L199,360.5L197,360.6L195,360.3L193,360.2L191,360.3L189,360.7L187,360.1L185,359.9L183,360.5L181,359.9L179,360.3L177,360.2L175,361.4L173,359.9L171,360.3L169,360.4L167,359.9L165,359.9L163,360.2L161,360L159,361.3L157,359.9L155,362.1L153,360.1L151,360.2L149,360.1L147,360.2L145,360.5L143,360.3L141,360.7L139,359.9L137,360.6L135,360.1L133,360.3L131,360.7L129,359.9L127,360.6Z" fill="#0a0405"/>
<text class="cjk" x="130" y="39.5" font-size="28" font-weight="350" fill="#1a1a1a">本公司生产工序的电波（噪声）波形</text>
<text class="cjk" x="138.5" y="103.3" font-size="25" font-weight="400" fill="#333">（例）</text>
<g class="cjk" font-size="25.9" font-weight="400">
<text x="686.3" y="103" fill="#1a1a1a">–</text>
<text x="712" y="103" fill="#1a1a1a">生产设备 未运行（工序未运行）</text>
<text x="686.3" y="133.7" fill="#e60012">–</text>
<text x="712" y="133.7" fill="#e60012">生产设备 运行中</text>
</g>
<g class="ax">
<text transform="translate(101.5,68.1) scale(1.16,1)" text-anchor="end">100</text><text transform="translate(101.5,216.1) scale(1.16,1)" text-anchor="end">50</text><text transform="translate(101.5,365.4) scale(1.16,1)" text-anchor="end">0</text><text transform="translate(101.5,513.6) scale(1.16,1)" text-anchor="end">-50</text><text transform="translate(101.5,662.1) scale(1.16,1)" text-anchor="end">-100</text>
<text transform="translate(127,699.2) scale(1.16,1)" text-anchor="middle">10</text><text transform="translate(363.8,699.2) scale(1.16,1)" text-anchor="middle">20</text><text transform="translate(600.5,699.2) scale(1.16,1)" text-anchor="middle">30</text><text transform="translate(837.2,699.2) scale(1.16,1)" text-anchor="middle">40</text><text transform="translate(1074,699.2) scale(1.16,1)" text-anchor="middle">50</text>
<text transform="translate(601,738) scale(1.08,1)" text-anchor="middle">Time (usec)</text>
<text transform="translate(36,357.7) rotate(-90) scale(1.055,1)" text-anchor="middle" style="font-size:25px">Voltage (mV)</text>
</g>
</svg>
</body>
</html>
